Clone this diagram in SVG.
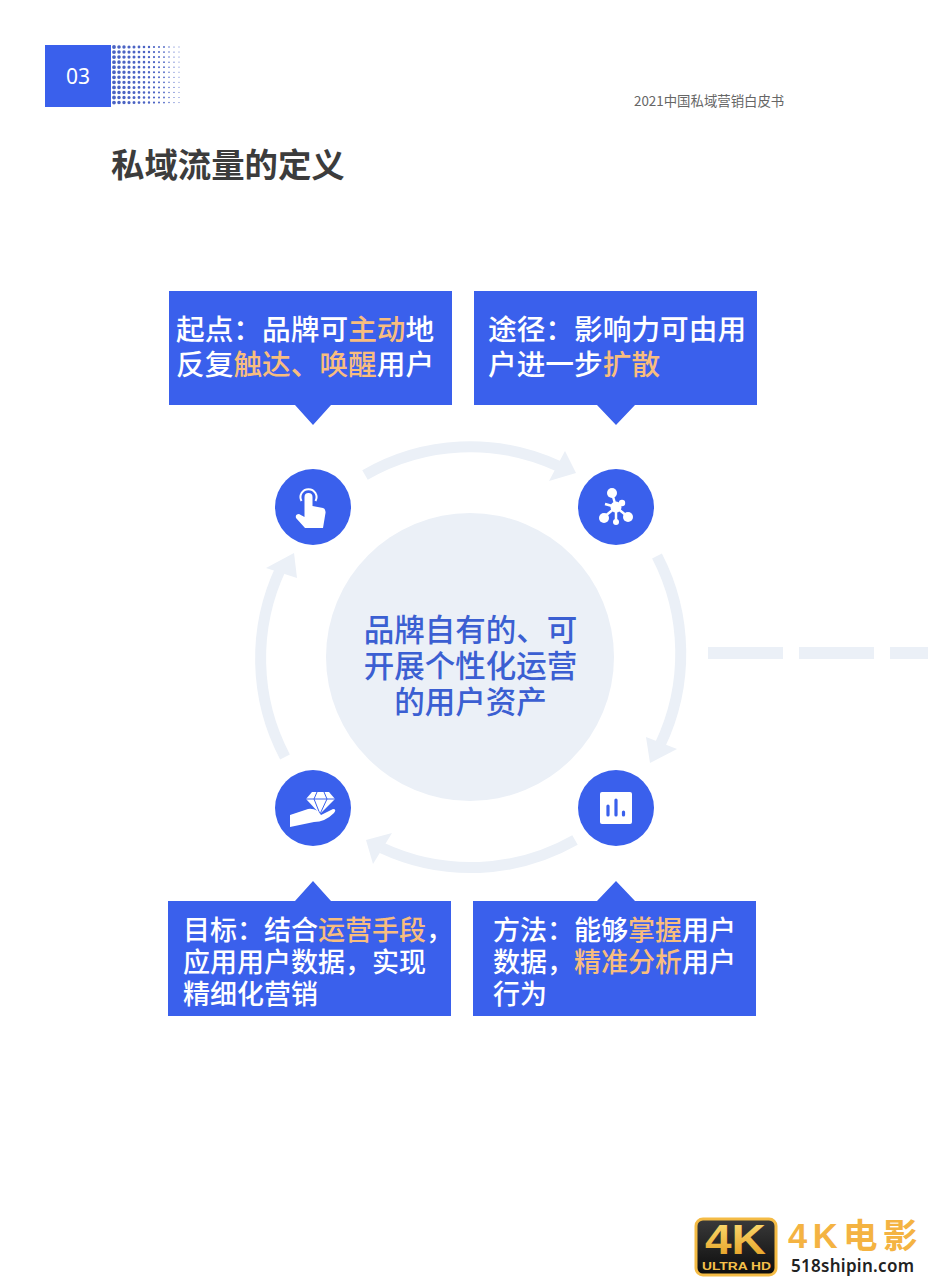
<svg xmlns="http://www.w3.org/2000/svg" width="928" height="1280" viewBox="0 0 928 1280">
<defs>
<linearGradient id="gold" x1="0" y1="0" x2="0" y2="1"><stop offset="0" stop-color="#fde27a"/><stop offset="1" stop-color="#e39a1c"/></linearGradient>
<linearGradient id="dark" x1="0" y1="0" x2="0" y2="1"><stop offset="0" stop-color="#3a3a3a"/><stop offset="1" stop-color="#0c0c0c"/></linearGradient>
</defs>
<style>
text{font-family:"Noto Sans CJK SC","Liberation Sans",sans-serif}
.box{fill:#3a60ec}
.node{fill:#3a60ec}
.w{fill:#fff}
.big{font-size:28.7px;font-weight:500;fill:#fff}
.mid{font-size:27px;font-weight:500;fill:#fff}
.hi{fill:#f8bd7e}
.ctr{font-size:30.5px;font-weight:500;fill:#3b5fd2;text-anchor:middle}
.arc{fill:none;stroke:#ebf0f7;stroke-width:11}
.head{fill:#ebf0f7}
.dot{stroke:#4a63c4;stroke-linecap:round;stroke-dasharray:0 5.05}
</style>
<rect width="928" height="1280" fill="#fff"/>
<g id="header">
<rect x="45" y="45" width="66" height="62" fill="#3a60ec"/>
<text x="78" y="84" font-size="21" fill="#fff" text-anchor="middle" style="font-family:'Noto Sans','Liberation Sans',sans-serif">03</text>
<g id="dots">
<line class="dot" x1="114" y1="47" x2="114" y2="106" stroke-width="3.8"/>
<line class="dot" x1="119" y1="47" x2="119" y2="106" stroke-width="3.6"/>
<line class="dot" x1="124" y1="47" x2="124" y2="106" stroke-width="3.4"/>
<line class="dot" x1="129" y1="47" x2="129" y2="106" stroke-width="3.2"/>
<line class="dot" x1="134" y1="47" x2="134" y2="106" stroke-width="3"/>
<line class="dot" x1="139" y1="47" x2="139" y2="106" stroke-width="2.8"/>
<line class="dot" x1="144" y1="47" x2="144" y2="106" stroke-width="2.6"/>
<line class="dot" x1="149" y1="47" x2="149" y2="106" stroke-width="2.4"/>
<line class="dot" x1="154" y1="47" x2="154" y2="106" stroke-width="2.2"/>
<line class="dot" x1="159" y1="47" x2="159" y2="106" stroke-width="2"/>
<line class="dot" x1="164" y1="47" x2="164" y2="106" stroke-width="1.8"/>
<line class="dot" x1="169" y1="47" x2="169" y2="106" stroke-width="1.5"/>
<line class="dot" x1="174" y1="47" x2="174" y2="106" stroke-width="1.2"/>
<line class="dot" x1="179" y1="47" x2="179" y2="106" stroke-width="1"/>
</g>
<text x="634" y="106" font-size="13.4" fill="#666">2021中国私域营销白皮书</text>
<text x="111" y="177" font-size="33.400" font-weight="700" fill="#3c3c3c">私域流量的定义</text>
</g>
<g id="connectors">
<path class="arc" d="M365 475A210 210 0 0 1 558 466"/>
<path class="head" d="M565 451L576 473L549 481Z"/>
<path class="arc" d="M657 556A212 212 0 0 1 660 745"/>
<path class="head" d="M677 749L650 763L646 737Z"/>
<path class="arc" d="M575 840A211 211 0 0 1 382 848"/>
<path class="head" d="M373 864L366 840L392 833Z"/>
<path class="arc" d="M285 757A211 211 0 0 1 281 568"/>
<path class="head" d="M266 568L294 553L297 578Z"/>
</g>
<g id="dashes" fill="#ebf0f7">
<rect x="708" y="647" width="75" height="12"/>
<rect x="799" y="647" width="75" height="12"/>
<rect x="890" y="647" width="38" height="12"/>
</g>
<g id="center">
<circle cx="470" cy="657" r="144" fill="#ebf0f7"/>
<text class="ctr" x="470.500" y="641">品牌自有的、可</text>
<text class="ctr" x="470.500" y="677">开展个性化运营</text>
<text class="ctr" x="470.500" y="713">的用户资产</text>
</g>
<g id="box-start">
<path class="box" d="M169 291H452V405H331L313 425L295 405H169Z"/>
<text class="big" x="176" y="340">起点：品牌可<tspan class="hi">主动</tspan>地</text>
<text class="big" x="176" y="375">反复<tspan class="hi">触达、唤醒</tspan>用户</text>
</g>
<g id="box-path">
<path class="box" d="M474 291H757V405H635L616 425L597 405H474Z"/>
<text class="big" x="488" y="340">途径：影响力可由用</text>
<text class="big" x="488" y="375">户进一步<tspan class="hi">扩散</tspan></text>
</g>
<g id="box-goal">
<path class="box" d="M168 901H295L313 881L331 901H451V1016H168Z"/>
<text class="mid" x="183" y="940">目标：结合<tspan class="hi">运营手段</tspan>，</text>
<text class="mid" x="183" y="972">应用用户数据，实现</text>
<text class="mid" x="183" y="1004">精细化营销</text>
</g>
<g id="box-method">
<path class="box" d="M473 901H597L616 881L635 901H756V1016H473Z"/>
<text class="mid" x="493" y="940">方法：能够<tspan class="hi">掌握</tspan>用户</text>
<text class="mid" x="493" y="972">数据，<tspan class="hi">精准分析</tspan>用户</text>
<text class="mid" x="493" y="1004">行为</text>
</g>
<g id="node-touch">
<circle class="node" cx="313" cy="507" r="38"/>
<path d="M301.500 501A8 8 0 1 1 315.500 501" fill="none" stroke="#fff" stroke-width="2"/>
<path class="w" d="M304.500 497A4 4 0 0 1 312.500 497V506L323 508Q326 509 325.500 513L323 528H305L296 518Q295 514 299 514L304.500 517Z"/>
</g>
<g id="node-network">
<circle class="node" cx="616" cy="507" r="38"/>
<g stroke="#fff" stroke-width="2.500"><line x1="616" y1="507" x2="612" y2="493"/><line x1="616" y1="507" x2="622" y2="503"/><line x1="616" y1="507" x2="603" y2="518"/><line x1="616" y1="507" x2="628" y2="517"/><line x1="616" y1="507" x2="616" y2="522"/><line x1="616" y1="507" x2="605" y2="504"/></g>
<g class="w"><circle cx="616" cy="507" r="5.500"/><circle cx="612" cy="493" r="5"/><circle cx="622" cy="503" r="3.200"/><circle cx="604" cy="518" r="5"/><circle cx="628" cy="517" r="5"/><circle cx="616" cy="522" r="3"/></g>
</g>
<g id="node-gem">
<circle class="node" cx="313" cy="808" r="38"/>
<path class="w" d="M312 792H329L335 799L320 814L306 799Z"/>
<path d="M306 799H335M314 799L320 814L327 799M317 792L314 799M324 792L327 799" fill="none" stroke="#3a60ec" stroke-width="1"/>
<path class="w" d="M290 815L308 809Q312 808 318 811L321 815L333 809Q337 809 334 813Q325 822 314 822L290 827Z"/>
</g>
<g id="node-chart">
<circle class="node" cx="616" cy="808" r="38"/>
<rect class="w" x="600" y="792" width="32" height="32" rx="2"/>
<g fill="none" stroke="#3a60ec" stroke-width="3.200" stroke-linecap="round"><line x1="608" y1="806" x2="608" y2="815"/><line x1="616" y1="800" x2="616" y2="815"/><line x1="623.500" y1="812" x2="623.500" y2="815"/></g>
</g>
<g id="watermark">
<rect x="696" y="1219" width="80" height="56" rx="7" fill="url(#dark)" stroke="#f4bb45" stroke-width="3"/>
<text x="705" y="1254" font-size="42" font-weight="700" fill="url(#gold)" textLength="61" lengthAdjust="spacingAndGlyphs" style="font-family:'Liberation Sans',sans-serif">4K</text>
<text x="702" y="1270" font-size="10.500" font-weight="700" fill="#f5c04a" textLength="69" lengthAdjust="spacingAndGlyphs" style="font-family:'Liberation Sans',sans-serif">ULTRA HD</text>
<text x="788" y="1248" font-size="34.500" font-weight="700" fill="#f4b342" letter-spacing="5.500" style="font-family:'Liberation Sans','Noto Sans CJK SC',sans-serif">4K电影</text>
<text x="791" y="1272" font-size="17" font-weight="600" fill="#222" textLength="123" style="font-family:'Noto Sans','Liberation Sans',sans-serif">518shipin.com</text>
</g>
</svg>
